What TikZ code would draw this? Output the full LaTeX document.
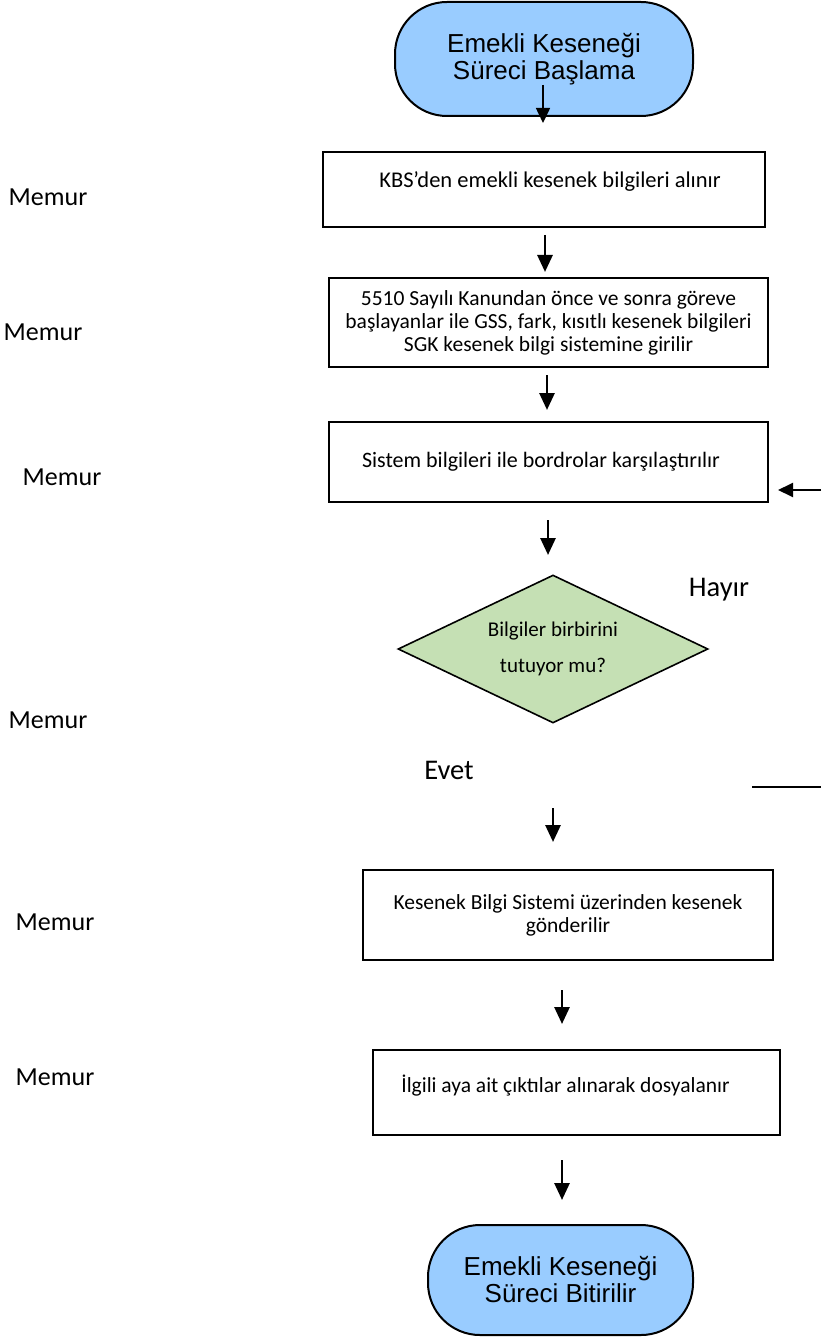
\documentclass[tikz,border=0pt]{standalone}
\usepackage{fontspec}
\setmainfont{Carlito}
\newfontfamily\arialf{Liberation Sans}
\usetikzlibrary{shapes.geometric,arrows.meta}
\definecolor{termblue}{RGB}{153,204,255}
\definecolor{diagreen}{RGB}{197,224,180}
\begin{document}
\begin{tikzpicture}[x=1pt,y=-1pt,
  term/.style={draw, line width=2pt, fill=termblue, rounded corners=52pt, align=center, inner sep=0pt,
    font=\arialf\fontsize{26}{27}\selectfont},
  procbox/.style={draw, line width=2pt, align=center, inner sep=0pt, fill=white,
    font=\fontsize{21.5}{23}\selectfont},
  decis/.style={draw, line width=1.6pt, diamond, aspect=2.1, fill=diagreen, align=center, inner sep=0pt,
    font=\fontsize{21}{36}\selectfont},
  role/.style={font=\fontsize{26}{28}\selectfont, inner sep=0pt},
  answer/.style={font=\fontsize{28.5}{30}\selectfont, inner sep=0pt},
  arr/.style={line width=2.8pt, -{Triangle[length=17pt,width=15pt]}},
  thinarr/.style={line width=1.6pt, -{Triangle[length=15pt,width=14pt]}}
]
\useasboundingbox (0,0) rectangle (821,1337);

% terminals
\node[term, minimum width=298pt, minimum height=114pt] (start) at (544,59) {Emekli Keseneği\\Süreci Başlama};
\node[term, minimum width=265pt, minimum height=110pt] (stop) at (560.5,1280) {Emekli Keseneği\\Süreci Bitirilir};

% process boxes
\node[procbox, minimum width=442pt, minimum height=75pt, font=\fontsize{22.5}{23}\selectfont, text depth=19pt] (b1) at (544,189.5) {\hspace*{12pt}KBS’den emekli kesenek bilgileri alınır};
\node[procbox, minimum width=439pt, minimum height=89pt] (b2) at (548.5,322.5) {5510 Sayılı Kanundan önce ve sonra göreve\\başlayanlar ile GSS, fark, kısıtlı kesenek bilgileri\\SGK kesenek bilgi sistemine girilir};
\node[procbox, minimum width=439pt, minimum height=80pt, font=\fontsize{22}{23}\selectfont] (b3) at (548.5,462) {\hspace*{-15pt}Sistem bilgileri ile bordrolar karşılaştırılır};
\node[procbox, minimum width=410pt, minimum height=90pt] (b4) at (568,915) {Kesenek Bilgi Sistemi üzerinden kesenek\\gönderilir};
\node[procbox, minimum width=407pt, minimum height=85pt, text depth=18.5pt] (b5) at (576.5,1092.5) {\hspace*{-22pt}İlgili aya ait çıktılar alınarak dosyalanır};

% decision
\node[decis, minimum width=310pt, minimum height=148pt] (dec) at (553,649) {Bilgiler birbirini\\tutuyor mu?};

% labels
\node[answer] (hayir) at (719,590) {Hayır};
\node[answer] (evet) at (449,770) {Evet};

\node[role] (m1) at (48,197) {Memur};
\node[role] (m2) at (43,332) {Memur};
\node[role] (m3) at (62,477) {Memur};
\node[role] (m4) at (48,720) {Memur};
\node[role] (m5) at (55,922) {Memur};
\node[role] (m6) at (55,1077) {Memur};

% connector end points
\coordinate (a0s) at (543,85);   \coordinate (a0e) at (543,123);
\coordinate (a1s) at (545,235);  \coordinate (a1e) at (545,272);
\coordinate (a2s) at (547,375);  \coordinate (a2e) at (547,410);
\coordinate (a3s) at (548,520);  \coordinate (a3e) at (548,555);
\coordinate (a4s) at (553,808);  \coordinate (a4e) at (553,842);
\coordinate (a5s) at (562,990);  \coordinate (a5e) at (562,1024);
\coordinate (a6s) at (562,1160); \coordinate (a6e) at (562,1200);
\coordinate (backs) at (821,490); \coordinate (backe) at (778,490);
\coordinate (noa) at (752,787);  \coordinate (nob) at (821,787);

\draw[thinarr] (a0s) -- (a0e);
\draw[arr] (a1s) -- (a1e);
\draw[arr] (a2s) -- (a2e);
\draw[arr] (a3s) -- (a3e);
\draw[arr] (a4s) -- (a4e);
\draw[arr] (a5s) -- (a5e);
\draw[arr] (a6s) -- (a6e);
\draw[thinarr, line width=2pt] (backs) -- (backe);
\draw[line width=2pt] (noa) -- (nob);
\end{tikzpicture}
\end{document}
